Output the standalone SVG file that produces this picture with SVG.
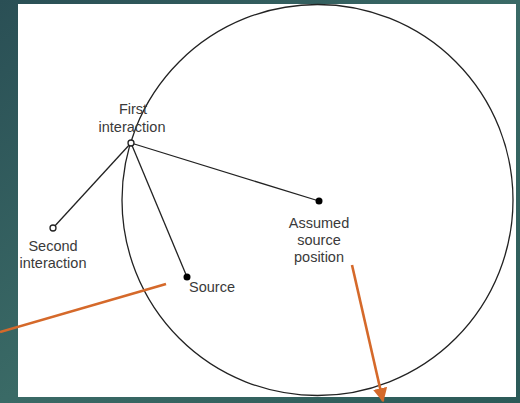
<svg xmlns="http://www.w3.org/2000/svg" width="520" height="403" viewBox="0 0 520 403">
  <defs>
    <linearGradient id="bg" x1="0" y1="0" x2="1" y2="1">
      <stop offset="0" stop-color="#2a4f55"/>
      <stop offset="0.5" stop-color="#3a6a66"/>
      <stop offset="1" stop-color="#2c5a58"/>
    </linearGradient>
    <marker id="ah" viewBox="0 0 10 10" refX="9" refY="5" markerWidth="5.5" markerHeight="5.5" orient="auto" markerUnits="strokeWidth">
      <path d="M0,0 L10,5 L0,10 Z" fill="#d5692a"/>
    </marker>
    <style>
      .ln { stroke: #222; stroke-width: 1.3; fill: none; }
      .or { stroke: #d5692a; stroke-width: 2.6; fill: none; }
      .txt { font-family: "Liberation Sans", Arial, sans-serif; font-size: 14.5px; fill: #3a3a3a; text-anchor: middle; }
      .dot { fill: #000; }
      .open { fill: #fff; stroke: #222; stroke-width: 1.3; }
    </style>
  </defs>
  <rect x="0" y="0" width="520" height="403" fill="url(#bg)"/>
  <rect x="18" y="4" width="498" height="393" fill="#fff"/>
  <g id="circle">
    <circle cx="317.5" cy="200" r="195.5" class="ln"/>
  </g>
  <g id="connectors">
    <line class="ln" x1="131" y1="143" x2="319" y2="201"/>
    <line class="ln" x1="131" y1="143" x2="187" y2="277"/>
    <line class="ln" x1="131" y1="143" x2="53" y2="228"/>
    <line class="or" x1="0" y1="332" x2="166" y2="284"/>
    <line class="or" x1="352" y1="265" x2="383" y2="401" marker-end="url(#ah)"/>
  </g>
  <g id="first-interaction">
    <circle class="open" cx="131" cy="143" r="3"/>
    <text class="txt" x="133" y="114">First</text>
    <text class="txt" x="132" y="132">interaction</text>
  </g>
  <g id="second-interaction">
    <circle class="open" cx="53" cy="228" r="3"/>
    <text class="txt" x="53" y="251">Second</text>
    <text class="txt" x="53" y="268">interaction</text>
  </g>
  <g id="assumed-source">
    <circle class="dot" cx="319" cy="201" r="3.5"/>
    <text class="txt" x="319" y="228">Assumed</text>
    <text class="txt" x="319" y="245">source</text>
    <text class="txt" x="319" y="262">position</text>
  </g>
  <g id="source">
    <circle class="dot" cx="187" cy="277" r="3.5"/>
    <text class="txt" x="212" y="292">Source</text>
  </g>
</svg>
